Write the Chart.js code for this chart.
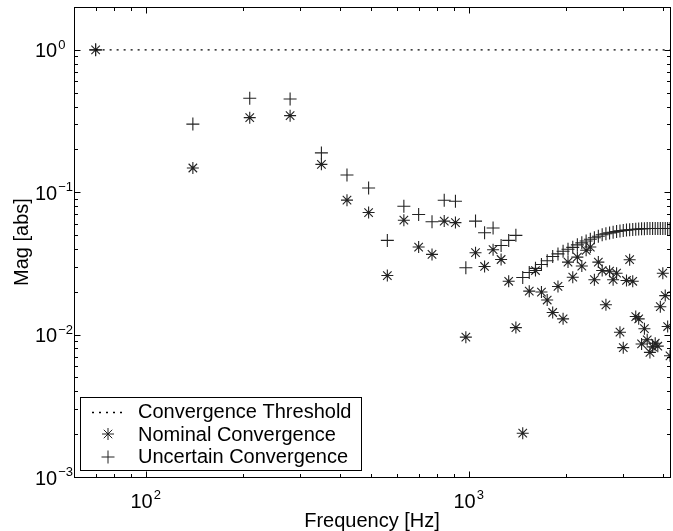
<!DOCTYPE html>
<html><head><meta charset="utf-8">
<script src="https://cdn.jsdelivr.net/npm/chart.js@4/dist/chart.umd.min.js"></script>
<style>html,body{margin:0;padding:0;background:#fff;}#wrap{width:673px;height:531px;position:relative;}</style>
</head><body><div id="wrap"><canvas id="c" width="673" height="531"></canvas></div>
<script>
// ---- data ----
const frequencies = [70,140,210,280,350,420,490,560,630,700,770,840,910,980,1050,1120,1190,1260,1330,1400,
  1470,1540,1610,1680,1750,1820,1890,1960,2030,2100,2170,2240,2310,2380,2450,2520,2590,2660,2730,2800,
  2870,2940,3010,3080,3150,3220,3290,3360,3430,3500,3570,3640,3710,3780,3850,3920,3990,4060,4130,4200];
const nominal = [1.0,0.148,0.334,0.345,0.157,0.088,0.072,0.026,0.0636,0.0412,
  0.0366,0.0627,0.0612,0.0096,0.0376,0.0301,0.0395,0.0337,0.0237,0.0112,
  0.00203,0.0202,0.0282,0.0199,0.0175,0.0143,0.0218,0.0129,0.0323,0.0253,
  0.0350,0.0303,0.0391,0.0412,0.0243,0.0323,0.0282,0.0162,0.0279,0.0243,
  0.0270,0.0104,0.0081,0.0240,0.0336,0.0237,0.0134,0.0129,0.0086,0.0110,
  0.0092,0.0075,0.0082,0.0087,0.0083,0.0157,0.0270,0.0188,0.0114,0.0071];
const uncertain = [1.0,0.301,0.457,0.452,0.189,0.132,0.107,0.0459,0.0797,0.0697,
  0.062,0.0879,0.0864,0.0295,0.0627,0.052,0.0561,0.0423,0.0459,0.0498,
  0.0252,0.0273,0.0292,0.0311,0.0330,0.0354,0.0369,0.0385,0.0398,0.0410,
  0.0427,0.0441,0.0455,0.0467,0.0479,0.0491,0.0503,0.0511,0.0518,0.0524,
  0.0530,0.0535,0.0539,0.0542,0.0545,0.0548,0.0550,0.0552,0.0554,0.0555,
  0.0556,0.0556,0.0556,0.0556,0.0556,0.0556,0.0556,0.0556,0.0556,0.0556];
const thresholdFreq = [70, 4200];
const thresholdMag = [1, 1];
const seriesLabels = ['Convergence Threshold','Nominal Convergence','Uncertain Convergence'];
const xMajorTicks = [100, 1000];
const xTickExponents = ['2','3'];
const xMinorTicks = [60,70,80,90,200,300,400,500,600,700,800,900,2000,3000,4000];
const yMajorTicks = [1, 0.1, 0.01, 0.001];
const yTickExponents = ['0','\u22121','\u22122','\u22123'];
const yMinorTicks = [0.002,0.003,0.004,0.005,0.006,0.007,0.008,0.009,0.02,0.03,0.04,0.05,0.06,0.07,0.08,0.09,
  0.2,0.3,0.4,0.5,0.6,0.7,0.8,0.9,2];
const xTitle = 'Frequency [Hz]';
const yTitle = 'Mag [abs]';

const FONT = '"Liberation Sans", Arial, Helvetica, sans-serif';

function drawStar(ctx, x, y, r) {
  ctx.beginPath();
  for (let i = 0; i < 4; i++) {
    const a = i * Math.PI / 4;
    ctx.moveTo(x - r * Math.cos(a), y - r * Math.sin(a));
    ctx.lineTo(x + r * Math.cos(a), y + r * Math.sin(a));
  }
  ctx.stroke();
}
function drawCross(ctx, x, y, r) {
  ctx.beginPath();
  ctx.moveTo(x - r, y); ctx.lineTo(x + r, y);
  ctx.moveTo(x, y - r); ctx.lineTo(x, y + r);
  ctx.stroke();
}

const axesPlugin = {
  id: 'matlabAxes',
  afterDraw(chart) {
    const ctx = chart.ctx, a = chart.chartArea, xs = chart.scales.x, ys = chart.scales.y;
    ctx.save();
    ctx.strokeStyle = '#000';
    ctx.fillStyle = '#000';
    ctx.lineWidth = 1;
    const L = Math.round(a.left) + 0.5, R = Math.round(a.right) + 0.5;
    const T = Math.round(a.top) + 0.5, B = Math.round(a.bottom) + 0.5;
    ctx.strokeRect(L, T, R - L, B - T);
    const MAJ = 6, MIN = 3.5;
    ctx.beginPath();
    const xt = (v, len) => { const p = Math.round(xs.getPixelForValue(v)) + 0.5;
      ctx.moveTo(p, B); ctx.lineTo(p, B - len); ctx.moveTo(p, T); ctx.lineTo(p, T + len); };
    const yt = (v, len) => { const p = Math.round(ys.getPixelForValue(v)) + 0.5;
      ctx.moveTo(L, p); ctx.lineTo(L + len, p); ctx.moveTo(R, p); ctx.lineTo(R - len, p); };
    xMajorTicks.forEach(v => xt(v, MAJ));
    xMinorTicks.forEach(v => xt(v, MIN));
    yMajorTicks.forEach(v => yt(v, MAJ));
    yMinorTicks.forEach(v => yt(v, MIN));
    ctx.stroke();

    // tick labels
    ctx.textBaseline = 'alphabetic';
    const bigF = '20px ' + FONT, smallF = '13px ' + FONT;
    yMajorTicks.forEach((v, i) => {
      const p = ys.getPixelForValue(v);
      ctx.font = bigF; ctx.textAlign = 'left';
      ctx.fillText('10', 35, p + 7.5);
      const w = ctx.measureText('10').width;
      ctx.font = smallF;
      ctx.fillText(yTickExponents[i], 35 + w + 1, p - 1);
    });
    xMajorTicks.forEach((v, i) => {
      const p = xs.getPixelForValue(v);
      ctx.font = bigF; const w1 = ctx.measureText('10').width;
      ctx.font = smallF; const w2 = ctx.measureText(xTickExponents[i]).width;
      const start = p - (w1 + w2 + 1) / 2;
      ctx.textAlign = 'left';
      ctx.font = bigF; ctx.fillText('10', start, 508);
      ctx.font = smallF; ctx.fillText(xTickExponents[i], start + w1 + 1, 498.5);
    });
    // axis titles
    ctx.font = bigF; ctx.textAlign = 'center';
    ctx.fillText(xTitle, (a.left + a.right) / 2, 527);
    ctx.save();
    ctx.translate(28, (a.top + a.bottom) / 2);
    ctx.rotate(-Math.PI / 2);
    ctx.fillText(yTitle, 0, 0);
    ctx.restore();

    // legend
    const lx = 80.5, ly = 397.5, lw = 281, lh = 73;
    ctx.fillStyle = '#fff';
    ctx.fillRect(lx, ly, lw, lh);
    ctx.strokeStyle = '#000';
    ctx.strokeRect(lx, ly, lw, lh);
    ctx.fillStyle = '#000';
    const rows = [418, 440.5, 463];
    const mids = [412, 434, 457];
    ctx.save();
    ctx.setLineDash([2, 5]);
    ctx.lineWidth = 1.3;
    ctx.beginPath(); ctx.moveTo(92, mids[0] + 0.5); ctx.lineTo(125, mids[0] + 0.5); ctx.stroke();
    ctx.restore();
    ctx.strokeStyle = '#222';
    drawStar(ctx, 108, mids[1], 6);
    drawCross(ctx, 108, mids[2], 6.5);
    ctx.font = bigF; ctx.textAlign = 'left';
    seriesLabels.forEach((t, i) => ctx.fillText(t, 138, rows[i]));
    ctx.restore();
  }
};

const pts = (xsArr, ysArr) => xsArr.map((f, i) => ({x: f, y: ysArr[i]}));

new Chart(document.getElementById('c'), {
  type: 'scatter',
  data: {
    datasets: [
      { type: 'line', label: seriesLabels[0], data: pts(thresholdFreq, thresholdMag),
        borderColor: '#000', borderWidth: 1.3, borderDash: [2, 5], pointRadius: 0, fill: false },
      { label: seriesLabels[1], data: pts(frequencies, nominal), pointStyle: 'star',
        pointRadius: 6, pointBorderColor: '#222', pointBorderWidth: 1.1, pointBackgroundColor: 'rgba(0,0,0,0)' },
      { label: seriesLabels[2], data: pts(frequencies, uncertain), pointStyle: 'cross',
        pointRadius: 6.5, pointBorderColor: '#222', pointBorderWidth: 1.1, pointBackgroundColor: 'rgba(0,0,0,0)' }
    ]
  },
  options: {
    responsive: false, animation: false, events: [],
    layout: { autoPadding: false, padding: { left: 74, right: 3, top: 7, bottom: 54 } },
    plugins: { legend: { display: false }, tooltip: { enabled: false } },
    scales: {
      x: { type: 'logarithmic', min: 60, max: 4200, display: false },
      y: { type: 'logarithmic', min: 0.001, max: 2, display: false }
    }
  },
  plugins: [axesPlugin]
});
</script>
</body></html>
